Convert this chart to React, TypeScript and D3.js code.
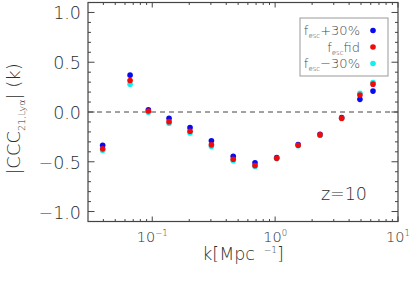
import { useEffect, useRef } from 'react';
import * as d3 from 'd3';

// wavenumbers k [Mpc^-1]
const kValues = [0.0395, 0.066, 0.093, 0.137, 0.203, 0.303, 0.456, 0.686, 1.03, 1.54, 2.32, 3.48, 4.9, 6.26];
// |CCC_21,Lya| (k) for the three escape fractions
const plus30 = [-0.334, 0.37, 0.023, -0.063, -0.157, -0.29, -0.444, -0.51, -0.458, -0.328, -0.224, -0.057, 0.127, 0.21];
const fid = [-0.37, 0.317, 0.01, -0.097, -0.193, -0.33, -0.474, -0.537, -0.464, -0.334, -0.23, -0.063, 0.17, 0.28];
const minus30 = [-0.387, 0.28, -0.003, -0.113, -0.21, -0.347, -0.49, -0.547, -0.468, -0.338, -0.234, -0.066, 0.187, 0.297];

const seriesNames = ['+30%', 'fid', '\u221230%'];
const seriesColors = ['#0a0af0', '#f00a0a', '#10f0f0'];
const yTicks = [-1.0, -0.5, 0.0, 0.5, 1.0];
const xMajor = [0.1, 1, 10];
const xTickExp = ['\u22121', '0', '1'];

const FONT = '"DejaVu Sans", sans-serif';

export default function App() {
  const svgRef = useRef<SVGSVGElement>(null);

  useEffect(() => {
    if (!svgRef.current) return;
    const svg = d3.select(svgRef.current);
    svg.selectAll('*').remove();

    const left = 88, right = 398, top = 2.5, bottom = 221.5;

    const x = d3.scaleLog().domain([0.03, 10]).range([left, right]);
    const y = d3.scaleLinear().domain([-1.1, 1.1]).range([bottom, top]);

    const axisColor = '#444';
    const textColor = '#2e2e2e';

    // frame
    svg.append('rect')
      .attr('x', left).attr('y', top)
      .attr('width', right - left).attr('height', bottom - top)
      .attr('fill', 'none').attr('stroke', axisColor).attr('stroke-width', 1.2);

    // y ticks (both sides)
    const yMinor = d3.range(-10, 11).map(i => i / 10);
    yMinor.forEach(v => {
      const major = Math.abs(v * 2 - Math.round(v * 2)) < 1e-6;
      const len = major ? 6.5 : 3;
      const py = y(v);
      svg.append('line').attr('x1', left).attr('x2', left + len).attr('y1', py).attr('y2', py)
        .attr('stroke', axisColor);
      svg.append('line').attr('x1', right).attr('x2', right - len).attr('y1', py).attr('y2', py)
        .attr('stroke', axisColor);
    });

    // x ticks (bottom & top)
    const xMinor: number[] = [];
    [0.01, 0.1, 1].forEach(d => {
      for (let m = 2; m <= 9; m++) {
        const v = m * d;
        if (v > 0.03 && v < 10) xMinor.push(v);
      }
    });
    xMinor.forEach(v => {
      const px = x(v);
      svg.append('line').attr('x1', px).attr('x2', px).attr('y1', bottom).attr('y2', bottom - 2.5)
        .attr('stroke', axisColor);
      svg.append('line').attr('x1', px).attr('x2', px).attr('y1', top).attr('y2', top + 2.5)
        .attr('stroke', axisColor);
    });
    xMajor.forEach(v => {
      const px = x(v);
      svg.append('line').attr('x1', px).attr('x2', px).attr('y1', bottom).attr('y2', bottom - 5)
        .attr('stroke', axisColor);
      svg.append('line').attr('x1', px).attr('x2', px).attr('y1', top).attr('y2', top + 5)
        .attr('stroke', axisColor);
    });

    // y tick labels
    yTicks.forEach(v => {
      svg.append('text')
        .attr('x', 81).attr('y', y(v) + 7)
        .attr('text-anchor', 'end')
        .attr('font-family', FONT).attr('font-size', 17.5).attr('font-weight', 300)
        .attr('fill', textColor)
        .text(d3.format('.1f')(v).replace('-', '\u2212'));
    });

    // x tick labels
    xMajor.forEach((v, i) => {
      const t = svg.append('text')
        .attr('x', x(v)).attr('y', 241.5)
        .attr('text-anchor', 'middle')
        .attr('font-family', FONT).attr('font-size', 14.5).attr('font-weight', 300)
        .attr('fill', textColor);
      t.append('tspan').text('10');
      t.append('tspan').attr('dy', -6).attr('font-size', 8.5).text(xTickExp[i]);
    });

    // zero line
    svg.append('line')
      .attr('x1', left).attr('x2', right)
      .attr('y1', y(0)).attr('y2', y(0))
      .attr('stroke', axisColor).attr('stroke-dasharray', '5,4');

    // axis titles
    const xt = svg.append('text')
      .attr('x', (left + right) / 2).attr('y', 260)
      .attr('text-anchor', 'middle')
      .attr('font-family', FONT).attr('font-size', 17.5).attr('font-weight', 300)
      .attr('fill', textColor);
    xt.append('tspan').text('k[Mpc\u2002');
    xt.append('tspan').attr('dy', -7).attr('font-size', 9).text('\u22121');
    xt.append('tspan').attr('dy', 7).text(']');

    const yt = svg.append('text')
      .attr('transform', 'translate(20,119) rotate(-90)')
      .attr('text-anchor', 'middle')
      .attr('font-family', FONT).attr('font-size', 18).attr('font-weight', 300)
      .attr('fill', textColor);
    yt.append('tspan').text('|CCC');
    yt.append('tspan').attr('dy', 5).attr('font-size', 9.5).text('21,Ly\u03b1');
    yt.append('tspan').attr('dy', -5).text('| (k)');

    // z label
    svg.append('text')
      .attr('x', 367).attr('y', 200)
      .attr('text-anchor', 'end')
      .attr('font-family', FONT).attr('font-size', 17.5).attr('font-weight', 300)
      .attr('fill', textColor)
      .text('z=10');

    // points: draw order blue, cyan, red
    const series = [plus30, fid, minus30];
    [0, 2, 1].forEach(si => {
      svg.append('g').selectAll('circle')
        .data(series[si])
        .enter()
        .append('circle')
        .attr('cx', (_d, i) => x(kValues[i]))
        .attr('cy', d => y(d))
        .attr('r', 2.8)
        .attr('fill', seriesColors[si]);
    });

    // legend
    svg.append('rect')
      .attr('x', 300).attr('y', 18).attr('width', 88).attr('height', 58)
      .attr('fill', 'white').attr('stroke', '#999').attr('stroke-width', 1);

    seriesNames.forEach((name, i) => {
      const cy = 30.5 + i * 16.5;
      const t = svg.append('text')
        .attr('x', 360).attr('y', cy + 4.5)
        .attr('text-anchor', 'end')
        .attr('font-family', FONT).attr('font-size', 13).attr('font-weight', 300)
        .attr('fill', '#4a4a4a');
      t.append('tspan').text('f');
      t.append('tspan').attr('dy', 3).attr('font-size', 7).text('esc');
      t.append('tspan').attr('dy', -3).text(name);
      svg.append('circle')
        .attr('cx', 373).attr('cy', cy)
        .attr('r', 2.8)
        .attr('fill', seriesColors[i]);
    });
  }, []);

  return (
    <svg
      ref={svgRef}
      width={415}
      height={287}
      style={{ position: 'absolute', left: 0, top: 0, background: 'white' }}
    ></svg>
  );
}
